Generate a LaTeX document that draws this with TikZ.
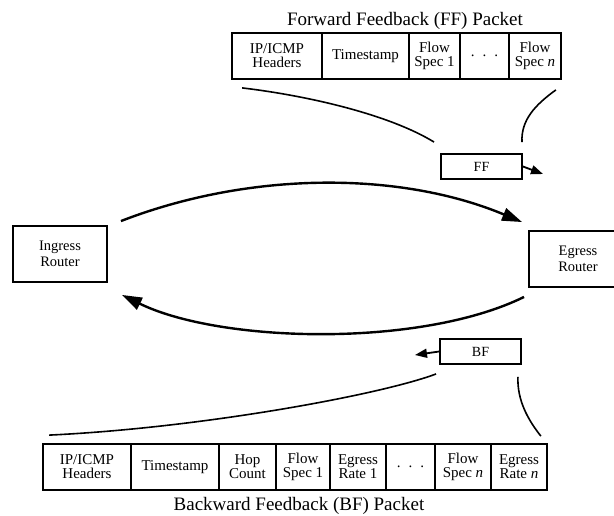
\documentclass[tikz,border=0pt]{standalone}
\usepackage{fontspec}
\setmainfont{Liberation Serif}
\usetikzlibrary{arrows.meta}
\begin{document}
\begin{tikzpicture}[x=1pt,y=-1pt,
  cell/.style={draw, line width=1.8pt, inner sep=0pt, minimum height=46pt, align=center, font=\fontsize{15}{14}\selectfont},
  dotcell/.style={draw, line width=1.8pt, inner sep=0pt, minimum height=46pt, font=\fontsize{15}{14}\selectfont},
  router/.style={draw, line width=1.9pt, inner sep=0pt, minimum height=56pt, align=center, font=\fontsize{14.5}{16}\selectfont},
  tag/.style={draw, line width=1.9pt, inner sep=0pt, minimum width=81pt, minimum height=25pt, font=\fontsize{14}{14}\selectfont},
  title/.style={font=\fontsize{19}{19}\selectfont, inner sep=0pt},
  mainarc/.style={line width=2.4pt, -{Triangle[length=20pt,width=13pt]}},
  smallarrow/.style={line width=1.8pt, -{Triangle[length=12pt,width=9pt]}},
  thin curve/.style={line width=1.6pt}
]
\useasboundingbox (0,0) rectangle (614,515);

% top packet
\node[title] (fftitle) at (405,21) {Forward Feedback (FF) Packet};
\node[cell, minimum width=90pt] (f1) at (277,56) {IP/ICMP\\Headers};
\node[cell, minimum width=87pt] (f2) at (365.5,56) {Timestamp};
\node[cell, minimum width=51pt] (f3) at (434.5,56) {Flow\\Spec 1};
\node[dotcell, minimum width=49pt] (f4) at (484.5,56) {.\hspace{8pt}.\hspace{8pt}.};
\node[cell, minimum width=52pt] (f5) at (535,56) {Flow\\Spec \textit{n}};

% bottom packet
\node[cell, minimum width=88pt] (b1) at (87,467) {IP/ICMP\\Headers};
\node[cell, minimum width=88pt] (b2) at (175,467) {Timestamp};
\node[cell, minimum width=57pt] (b3) at (247.5,467) {Hop\\Count};
\node[cell, minimum width=54pt] (b4) at (303,467) {Flow\\Spec 1};
\node[cell, minimum width=56pt] (b5) at (358,467) {Egress\\Rate 1};
\node[dotcell, minimum width=49pt] (b6) at (410.5,467) {.\hspace{8pt}.\hspace{8pt}.};
\node[cell, minimum width=56pt] (b7) at (463,467) {Flow\\Spec \textit{n}};
\node[cell, minimum width=56pt] (b8) at (519,467) {Egress\\Rate \textit{n}};
\node[title] (bftitle) at (299,506) {Backward Feedback (BF) Packet};

% routers
\node[router, minimum width=94pt] (ingress) at (60,254) {Ingress\\Router};
\node[router, minimum width=98pt] (egress) at (578,259) {Egress\\Router};

% FF / BF tags
\node[tag] (ff) at (481.5,166.5) {FF};
\node[tag] (bf) at (480.5,351.5) {BF};
\coordinate (fftip) at (543,174);
\coordinate (bftip) at (415,355);

% main arcs
\draw[mainarc] ([xshift=13pt,yshift=4pt]ingress.north east)
  .. controls (250,171) and (400,171) .. ([xshift=-6pt,yshift=8pt]egress.north west);
\draw[mainarc] ([xshift=-4pt,yshift=-9pt]egress.south west)
  .. controls (420,348) and (220,343) .. ([xshift=14pt,yshift=-12pt]ingress.south east);

% FF connectors
\draw[thin curve] ([xshift=11pt,yshift=-8pt]f1.south west)
  .. controls (310,96) and (390,115) .. ([xshift=-6pt,yshift=11pt]ff.north west);
\draw[thin curve] ([xshift=-6pt,yshift=-10pt]f5.south east)
  .. controls (535,105) and (521,120) .. ([xshift=-1pt,yshift=11pt]ff.north east);
\draw[smallarrow] (ff.east) -- (fftip);

% BF connectors
\draw[thin curve] ([xshift=-3pt,yshift=-9pt]bf.south west)
  .. controls (380,395) and (200,428) .. ([xshift=7pt,yshift=8pt]b1.north west);
\draw[thin curve] ([xshift=-4pt,yshift=-12pt]bf.south east)
  .. controls (517,400) and (528,420) .. ([xshift=-7pt,yshift=7pt]b8.north east);
\draw[smallarrow] (bf.west) -- (bftip);
\end{tikzpicture}
\end{document}
